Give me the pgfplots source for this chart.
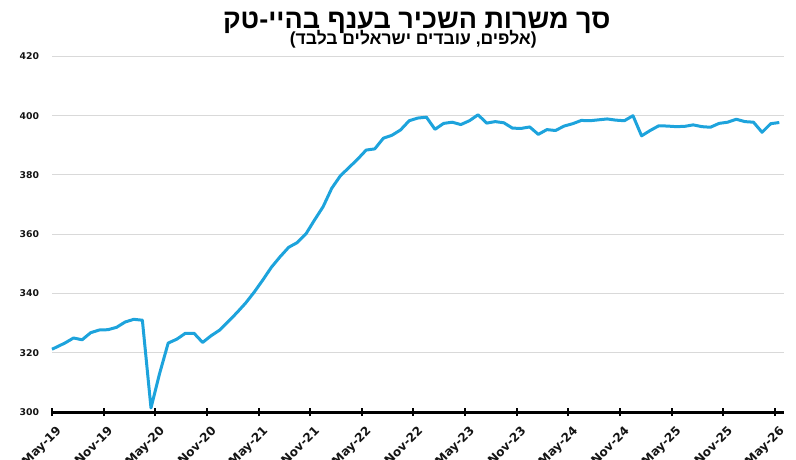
\documentclass[border=0pt]{standalone}
\usepackage{fontspec}
\usepackage{pgfplots}
\pgfplotsset{compat=1.18}
\TeXXeTstate=1
\setmainfont{DejaVu Sans}
\newfontfamily\hebfont[Script=Hebrew]{Liberation Sans Bold}
\newfontfamily\tickfont{DejaVu Sans Bold}
\definecolor{linec}{RGB}{29,163,220}
\definecolor{gridc}{RGB}{217,217,217}
\definecolor{labc}{RGB}{20,20,20}
\begin{document}
\begin{tikzpicture}[x=1pt,y=1pt]
\begin{axis}[
  at={(52pt,46.9pt)}, anchor=south west,
  scale only axis=true,
  width=731.6pt, height=355.7pt,
  xmin=0, xmax=85, ymin=300, ymax=420,
  axis x line*=bottom, axis y line*=left,
  x axis line style={line width=3pt, black},
  y axis line style={draw=none},
  xtick={0,6,...,84},
  xticklabels={May-19,Nov-19,May-20,Nov-20,May-21,Nov-21,May-22,Nov-22,May-23,Nov-23,May-24,Nov-24,May-25,Nov-25,May-26},
  ytick={300,320,...,420},
  tick align=center,
  major tick length=8pt,
  xtick style={line width=2pt, black},
  ytick style={draw=none},
  ymajorgrids=true,
  grid style={gridc, line width=1pt},
  /pgf/number format/assume math mode=true,
  yticklabel style={font=\tickfont\fontsize{9.3}{10}\selectfont, text=labc, inner sep=0pt, anchor=east, xshift=-8.7pt},
  xticklabel style={font=\tickfont\fontsize{12}{13}\selectfont, text=labc, inner sep=0pt, rotate=45, anchor=north east, xshift=-3.9pt, yshift=-8.8pt},
  clip=false,
]
\addplot[linec, line width=3pt, line join=round] coordinates {
(0,321.2) (1.5,323.3) (2.5,325.0) (3.5,324.4) (4.5,326.8) (5.5,327.7) (6.5,327.8) (7.5,328.6) (8.5,330.4) (9.5,331.3)
(10.5,331.0) (11.5,301.4) (12.5,313.0) (13.5,323.3) (14.5,324.6) (15.5,326.6) (16.5,326.6) (17.5,323.5) (18.5,325.8) (19.5,327.7)
(20.5,330.6) (21.5,333.6) (22.5,336.8) (23.5,340.5) (24.5,344.6) (25.5,348.9) (26.5,352.4) (27.5,355.6) (28.5,357.2) (29.5,360.1)
(30.5,364.8) (31.5,369.3) (32.5,375.5) (33.5,379.7) (34.5,382.5) (35.5,385.3) (36.5,388.4) (37.5,388.8) (38.5,392.4) (39.5,393.4)
(40.5,395.2) (41.5,398.3) (42.5,399.2) (43.5,399.5) (44.5,395.4) (45.5,397.4) (46.5,397.8) (47.5,397.0) (48.5,398.3) (49.5,400.3)
(50.5,397.5) (51.5,398.0) (52.5,397.6) (53.5,395.8) (54.5,395.7) (55.5,396.2) (56.5,393.7) (57.5,395.3) (58.5,395.0) (59.5,396.5)
(60.5,397.3) (61.5,398.4) (62.5,398.3) (63.5,398.6) (64.5,398.9) (65.5,398.5) (66.5,398.3) (67.5,400.0) (68.5,393.2) (69.5,395.0)
(70.5,396.6) (71.5,396.5) (72.5,396.3) (73.5,396.4) (74.5,396.9) (75.5,396.3) (76.5,396.1) (77.5,397.4) (78.5,397.8) (79.5,398.8)
(80.5,398.0) (81.5,397.8) (82.5,394.4) (83.5,397.3) (84.5,397.7)
};
\end{axis}
\node[font=\hebfont\fontsize{27}{30}\selectfont, anchor=base, inner sep=0pt] at (416.7,430.5) {\beginR סך משרות השכיר בענף בהיי-טק\endR};
\node[font=\hebfont\fontsize{17.5}{20}\selectfont, anchor=base, inner sep=0pt] at (413.3,414) {\beginR (אלפים, עובדים ישראלים בלבד)\endR};
\pgfresetboundingbox
\path[use as bounding box] (0,0) rectangle (796,459);
\end{tikzpicture}
\end{document}
